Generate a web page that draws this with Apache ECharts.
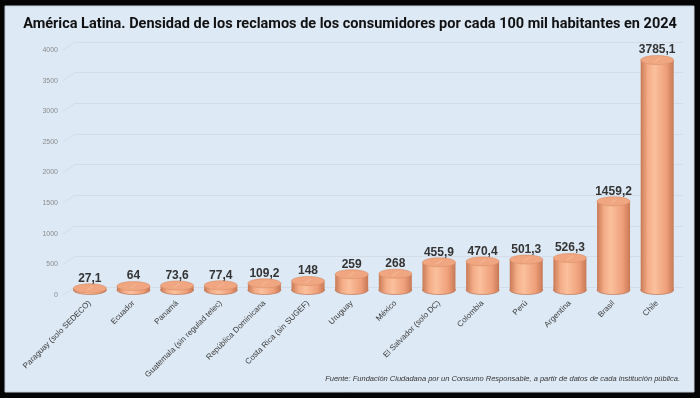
<!DOCTYPE html>
<html>
<head>
<meta charset="utf-8">
<script src="https://cdn.jsdelivr.net/npm/echarts@6/dist/echarts.min.js"></script>
<style>
  html, body { margin: 0; padding: 0; background: #000; }
  #chart { width: 700px; height: 398px; }
</style>
</head>
<body>
<div id="chart"></div>
<script>
var categories = ['Paraguay (solo SEDECO)', 'Ecuador', 'Panamá', 'Guatemala (sin regulad telec)', 'República Dominicana',
  'Costa Rica (sin SUGEF)', 'Uruguay', 'México', 'El Salvador (solo DC)', 'Colombia', 'Perú', 'Argentina', 'Brasil', 'Chile'];
var values = [27.1, 64, 73.6, 77.4, 109.2, 148, 259, 268, 455.9, 470.4, 501.3, 526.3, 1459.2, 3785.1];
var yTicks = [0, 500, 1000, 1500, 2000, 2500, 3000, 3500, 4000];

var chart = echarts.init(document.getElementById('chart'));

// cuerpo del cilindro
var bodyGrad = new echarts.graphic.LinearGradient(0, 0, 1, 0, [
  { offset: 0, color: '#c97a56' },
  { offset: 0.22, color: '#f4ad88' },
  { offset: 0.42, color: '#fbc09d' },
  { offset: 0.78, color: '#ee9f79' },
  { offset: 1, color: '#c77855' }
]);

function renderCylinder(params, api) {
  var base = api.coord([api.value(0), 0]);
  var top = api.coord([api.value(0), api.value(1)]);
  var w = 33, ry = 4.5;
  var cx = base[0];
  return {
    type: 'group',
    children: [
      { type: 'ellipse', shape: { cx: cx, cy: base[1], rx: w / 2, ry: ry },
        style: { fill: bodyGrad, stroke: '#b46a49', lineWidth: 0.6 } },
      { type: 'rect', shape: { x: cx - w / 2, y: top[1], width: w, height: base[1] - top[1] },
        style: { fill: bodyGrad } },
      { type: 'ellipse', shape: { cx: cx, cy: top[1], rx: w / 2, ry: ry },
        style: { fill: '#f0a781', stroke: '#d98f6a', lineWidth: 0.6 } },
      { type: 'line', shape: { x1: cx - 3, y1: top[1] + 2, x2: cx + 3, y2: top[1] - 2 },
        style: { stroke: '#f8c4a6', lineWidth: 0.7 } }
    ]
  };
}

function renderTick(params, api) {
  var p = api.coord([0, api.value(0)]);
  return { type: 'line', shape: { x1: p[0], y1: p[1], x2: p[0] + 12, y2: p[1] - 8 },
    style: { stroke: '#d4dde7', lineWidth: 1 } };
}

var option = {
  backgroundColor: '#050505',
  animation: false,
  graphic: [
    { type: 'rect', z: -10, shape: { x: 5, y: 6, width: 689, height: 386 },
      style: { fill: '#dde9f5', stroke: '#c4d0dc', lineWidth: 1 } },
    { type: 'text', right: 20, top: 375,
      style: { text: 'Fuente: Fundación Ciudadana por un Consumo Responsable, a partir de datos de cada institución pública.',
        fill: '#333', font: 'italic 7.5px "Liberation Sans", Arial, sans-serif' } }
  ],
  title: {
    text: 'América Latina. Densidad de los reclamos de los consumidores por cada 100 mil habitantes en 2024',
    left: 'center', top: 12,
    textStyle: { fontSize: 14.5, fontWeight: 'bold', color: '#111', fontFamily: 'Roboto, sans-serif' }
  },
  grid: [
    { left: 68, right: 21, top: 47, bottom: 108 },
    { left: 75, right: 17, top: 42, bottom: 111 },
    { left: 63, right: 636, top: 50, bottom: 103 }
  ],
  xAxis: [
    { type: 'category', gridIndex: 0, data: categories,
      axisLine: { show: false }, axisTick: { show: false },
      axisLabel: { interval: 0, rotate: 45, fontSize: 8, color: '#3a3a3a', margin: 12,
        fontFamily: '"Liberation Sans", Arial, sans-serif' } },
    { type: 'value', gridIndex: 1, show: false, min: 0, max: 1 },
    { type: 'value', gridIndex: 2, show: false, min: 0, max: 1 }
  ],
  yAxis: [
    { type: 'value', gridIndex: 0, min: 0, max: 4000, interval: 500, show: false },
    { type: 'value', gridIndex: 1, min: 0, max: 4000, interval: 500,
      axisLabel: { show: false }, axisLine: { show: false }, axisTick: { show: false },
      splitLine: { lineStyle: { color: '#d4dde7', width: 1 } } },
    { type: 'value', gridIndex: 2, min: 0, max: 4000, interval: 500,
      axisLine: { show: false }, axisTick: { show: false }, splitLine: { show: false },
      axisLabel: { fontSize: 7, color: '#8c8c8c', margin: 5,
        formatter: function (v) { return String(v); } } }
  ],
  series: [
    { type: 'custom', xAxisIndex: 2, yAxisIndex: 2, data: yTicks.map(function (v) { return [v]; }),
      encode: { y: 0 }, renderItem: renderTick, silent: true },
    { type: 'custom', xAxisIndex: 0, yAxisIndex: 0, z: 3,
      data: values.map(function (v, i) { return [i, v]; }),
      encode: { x: 0, y: 1 }, renderItem: renderCylinder },
    { type: 'bar', xAxisIndex: 0, yAxisIndex: 0, data: values, barWidth: 33, z: 4,
      itemStyle: { color: 'rgba(0,0,0,0)' },
      label: { show: true, position: 'top', distance: 4, fontSize: 12, fontWeight: 'bold', color: '#333',
        fontFamily: '"Liberation Sans", Arial, sans-serif',
        formatter: function (p) { return String(p.value).replace('.', ','); } } }
  ]
};

chart.setOption(option);
</script>
</body>
</html>
